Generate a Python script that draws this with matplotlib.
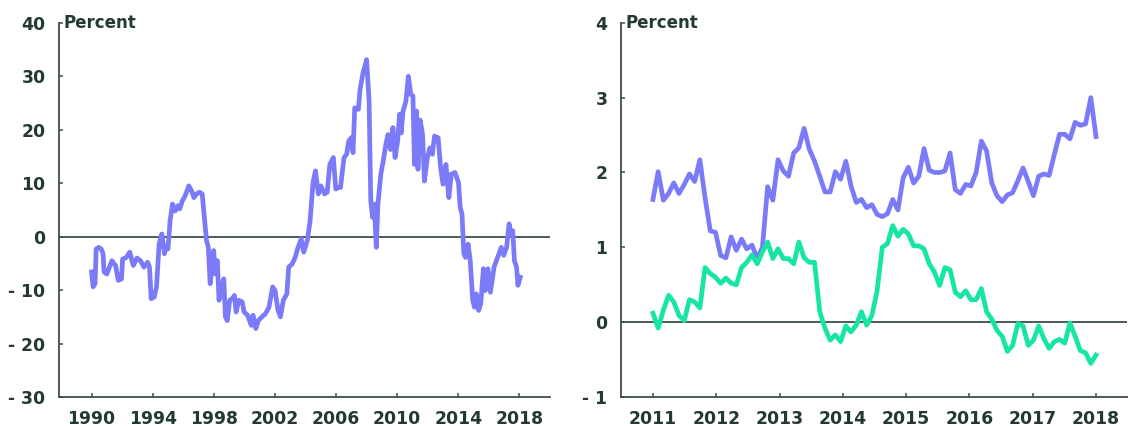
import numpy as np
import matplotlib
matplotlib.use('Agg')
import matplotlib.pyplot as plt

# Panel izquierdo: serie larga 1990-2018
anios_izq = [1990.0, 1990.1, 1990.23, 1990.3, 1990.47, 1990.63, 1990.75, 1990.82, 1991.0, 1991.17,
             1991.33, 1991.57, 1991.75, 1991.96, 1992.03, 1992.27, 1992.5, 1992.73, 1992.97, 1993.2,
             1993.43, 1993.67, 1993.79, 1993.9, 1994.1, 1994.25, 1994.42, 1994.6, 1994.77, 1994.9,
             1995.0, 1995.14, 1995.3, 1995.47, 1995.66, 1995.77, 1995.94, 1996.12, 1996.36, 1996.54,
             1996.7, 1996.87, 1997.06, 1997.24, 1997.4, 1997.52, 1997.64, 1997.76, 1997.88, 1997.99,
             1998.1, 1998.23, 1998.34, 1998.46, 1998.65, 1998.76, 1998.88, 1999.04, 1999.2, 1999.35,
             1999.46, 1999.63, 1999.86, 1999.98, 2000.21, 2000.45, 2000.56, 2000.75, 2000.91, 2001.15,
             2001.38, 2001.61, 2001.85, 2002.01, 2002.2, 2002.36, 2002.55, 2002.78, 2002.9, 2003.13,
             2003.32, 2003.48, 2003.72, 2003.88, 2004.12, 2004.3, 2004.49, 2004.65, 2004.84, 2005.0,
             2005.24, 2005.42, 2005.59, 2005.82, 2005.98, 2006.17, 2006.29, 2006.52, 2006.69, 2006.83,
             2006.99, 2007.11, 2007.22, 2007.46, 2007.57, 2007.76, 2008.0, 2008.16, 2008.27, 2008.39,
             2008.5, 2008.63, 2008.74, 2008.93, 2009.09, 2009.26, 2009.4, 2009.56, 2009.72, 2009.86,
             2010.03, 2010.15, 2010.26, 2010.38, 2010.57, 2010.73, 2010.89, 2011.03, 2011.13, 2011.27,
             2011.36, 2011.5, 2011.66, 2011.78, 2011.97, 2012.14, 2012.3, 2012.44, 2012.68, 2012.84,
             2013.0, 2013.19, 2013.38, 2013.54, 2013.78, 2014.01, 2014.12, 2014.24, 2014.36, 2014.47,
             2014.64, 2014.78, 2014.94, 2015.06, 2015.17, 2015.33, 2015.47, 2015.64, 2015.76, 2015.94,
             2016.1, 2016.34, 2016.57, 2016.81, 2016.97, 2017.16, 2017.32, 2017.44, 2017.56, 2017.67,
             2017.81, 2017.9, 2018.05]
valores_izq = [-6.6, -9.4, -8.8, -2.3, -2.0, -2.3, -3.2, -6.6, -7.0, -5.7,
               -4.5, -5.4, -8.2, -7.9, -4.2, -3.9, -2.9, -5.4, -4.0, -4.5,
               -5.7, -4.8, -5.7, -11.6, -11.3, -9.4, -1.4, 0.5, -3.2, -1.7,
               -2.3, 3.0, 6.1, 4.8, 5.8, 5.2, 6.7, 7.6, 9.5, 8.6,
               7.3, 8.0, 8.3, 8.0, 3.0, -0.7, -2.0, -8.8, -5.7, -2.6,
               -7.0, -4.5, -11.9, -10.1, -7.9, -15.0, -15.7, -11.9, -11.6, -11.0,
               -14.1, -11.9, -12.2, -14.1, -14.7, -16.6, -14.7, -17.2, -15.7, -15.0,
               -14.4, -13.2, -9.4, -10.1, -13.8, -15.0, -11.9, -10.7, -5.7, -5.1,
               -3.9, -2.3, -0.4, -2.9, -0.7, 3.0, 10.1, 12.3, 8.0, 9.5,
               8.0, 8.3, 13.5, 14.8, 8.9, 9.2, 9.2, 14.8, 15.4, 17.9,
               18.5, 15.7, 24.1, 23.8, 27.5, 30.6, 33.1, 25.3, 6.7, 3.6,
               6.1, -2.0, 6.1, 11.7, 14.2, 17.3, 19.1, 16.3, 20.4, 14.8,
               17.9, 22.9, 19.4, 23.5, 25.3, 30.0, 26.6, 26.3, 13.5, 23.5,
               12.6, 21.8, 19.1, 10.4, 14.8, 16.6, 15.4, 18.8, 18.5, 12.9,
               9.8, 13.5, 7.3, 11.7, 12.0, 10.1, 5.5, 4.2, -3.2, -3.9,
               -1.4, -4.5, -11.9, -13.2, -10.7, -13.8, -12.5, -6.0, -10.1, -6.0,
               -10.4, -5.7, -3.9, -2.0, -3.5, -2.0, 2.4, 0.5, 1.1, -4.5,
               -5.7, -9.1, -7.6]

# Panel derecho: dos series mensuales 2011-2018
serie_morada = [1.64, 2.01, 1.63, 1.72, 1.86, 1.72, 1.84, 1.98, 1.88, 2.17,
                1.66, 1.22, 1.20, 0.89, 0.86, 1.14, 0.96, 1.11, 0.98, 1.03,
                0.85, 1.00, 1.81, 1.63, 2.17, 2.02, 1.95, 2.26, 2.33, 2.59,
                2.31, 2.15, 1.95, 1.74, 1.74, 2.01, 1.91, 2.15, 1.82, 1.60,
                1.64, 1.53, 1.57, 1.44, 1.41, 1.45, 1.64, 1.50, 1.93, 2.07,
                1.86, 1.95, 2.32, 2.03, 2.00, 2.00, 2.02, 2.26, 1.77, 1.72,
                1.84, 1.82, 2.00, 2.42, 2.29, 1.86, 1.69, 1.61, 1.70, 1.73,
                1.89, 2.06, 1.88, 1.69, 1.95, 1.98, 1.96, 2.24, 2.51, 2.51,
                2.45, 2.67, 2.63, 2.65, 3.00, 2.48]
serie_verde = [0.12, -0.08, 0.16, 0.36, 0.27, 0.09, 0.02, 0.30, 0.27, 0.19,
               0.73, 0.65, 0.60, 0.52, 0.59, 0.52, 0.50, 0.73, 0.80, 0.90,
               0.78, 0.94, 1.07, 0.85, 0.98, 0.85, 0.85, 0.78, 1.07, 0.86,
               0.80, 0.80, 0.14, -0.08, -0.24, -0.17, -0.26, -0.05, -0.13, -0.04,
               0.14, -0.04, 0.09, 0.42, 1.00, 1.05, 1.29, 1.15, 1.24, 1.18,
               1.02, 1.02, 0.98, 0.78, 0.67, 0.49, 0.73, 0.70, 0.40, 0.34,
               0.42, 0.30, 0.30, 0.45, 0.14, 0.04, -0.11, -0.19, -0.39, -0.31,
               -0.02, -0.05, -0.31, -0.24, -0.05, -0.22, -0.35, -0.26, -0.23, -0.28,
               -0.01, -0.19, -0.38, -0.41, -0.55, -0.44]
anios_der = np.linspace(2011, 2018, len(serie_morada))

ticks_izq = [1990, 1994, 1998, 2002, 2006, 2010, 2014, 2018]
yticks_izq = [-30, -20, -10, 0, 10, 20, 30, 40]
ticks_der = [2011, 2012, 2013, 2014, 2015, 2016, 2017, 2018]
yticks_der = [-1, 0, 1, 2, 3, 4]

morado = '#7b7bfa'
verde = '#17e5a6'
texto = '#223a30'
eje = '#3d4f47'

plt.rcParams['font.family'] = ['DejaVu Sans']

fig = plt.figure(figsize=(11.35, 4.26), dpi=100)
ax1 = fig.add_axes([0.0524, 0.068, 0.4322, 0.8785])
ax2 = fig.add_axes([0.5474, 0.068, 0.4453, 0.8785])


def etiqueta(v):
    return '- ' + str(abs(v)) if v < 0 else str(v)


def estilo(ax, xt, yt):
    for s in ['top', 'right']:
        ax.spines[s].set_visible(False)
    for s in ['left', 'bottom']:
        ax.spines[s].set_color(eje)
        ax.spines[s].set_linewidth(1.3)
    ax.set_xticks(xt)
    ax.set_xticklabels([str(t) for t in xt])
    ax.set_yticks(yt)
    ax.set_yticklabels([etiqueta(t) for t in yt])
    ax.tick_params(axis='both', direction='in', colors=eje, length=3, width=1.1,
                   labelcolor=texto, labelsize=12.4)
    ax.tick_params(axis='x', pad=9.5)
    ax.tick_params(axis='y', pad=10)
    for lab in ax.get_xticklabels() + ax.get_yticklabels():
        lab.set_fontweight('bold')
    ax.axhline(0, color=eje, lw=1.3, zorder=1)
    ax.annotate('Percent', xy=(0, 1), xycoords='axes fraction', xytext=(3, 0),
                textcoords='offset points', ha='left', va='center',
                fontsize=12, fontweight='bold', color=texto)


ax1.plot(anios_izq, valores_izq, color=morado, lw=3.4, solid_joinstyle='round', zorder=3)
ax1.set_xlim(1987.9, 2020.0)
ax1.set_ylim(-30, 40)
estilo(ax1, ticks_izq, yticks_izq)

ax2.plot(anios_der, serie_morada, color=morado, lw=3.4, solid_joinstyle='round', zorder=3)
ax2.plot(anios_der, serie_verde, color=verde, lw=3.4, solid_joinstyle='round', zorder=3)
ax2.set_xlim(2010.5, 2018.485)
ax2.set_ylim(-1, 4)
estilo(ax2, ticks_der, yticks_der)

fig.savefig('out.png', dpi=100)
